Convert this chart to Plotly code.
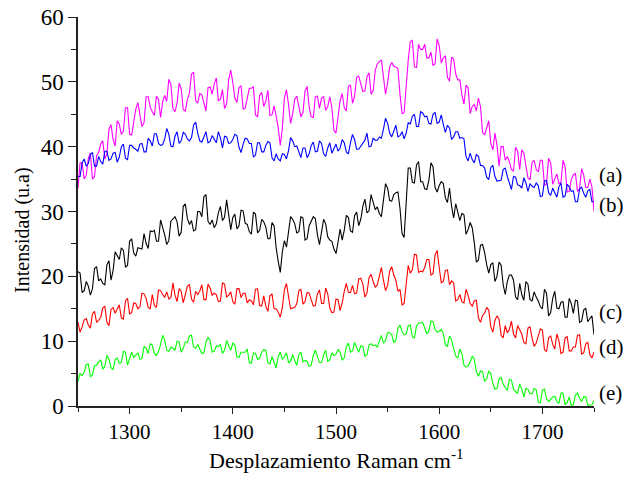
import plotly.graph_objects as go

# Raman shift grid (cm^-1), sampled every 2 cm^-1
WAVENUMBER = list(range(1250, 1751, 2))

SERIES_LABELS = ["(a)", "(b)", "(c)", "(d)", "(e)"]
SERIES_COLORS = ["#FF00FF", "#0000FF", "#000000", "#FF0000", "#00FF00"]

INT_A = [33.6, 37.5, 37.5, 35.0, 35.6, 38.2, 39.0, 35.0, 35.4, 38.6,
         39.1, 40.4, 40.9, 38.1, 38.9, 42.7, 43.4, 41.1, 40.1, 44.0,
         43.5, 41.9, 42.4, 46.0, 46.0, 41.9, 41.8, 44.0, 45.8, 46.8,
         45.2, 43.1, 43.7, 47.7, 47.7, 46.1, 45.4, 44.8, 47.8, 47.3,
         44.5, 46.9, 47.9, 47.0, 50.4, 49.6, 45.8, 45.4, 46.7, 49.8,
         48.9, 45.7, 45.5, 47.3, 48.3, 51.2, 51.5, 47.1, 46.7, 48.2,
         48.0, 46.5, 45.5, 49.1, 49.2, 48.1, 49.7, 50.6, 47.1, 47.3,
         48.8, 45.9, 46.6, 50.3, 51.8, 49.9, 47.5, 46.8, 49.1, 49.4,
         45.8, 45.9, 47.7, 49.0, 49.0, 49.2, 44.9, 44.6, 47.9, 48.4,
         46.2, 47.0, 48.7, 44.8, 44.9, 46.3, 44.7, 42.9, 40.2, 42.8,
         47.5, 48.8, 46.5, 43.6, 45.1, 47.3, 47.8, 46.4, 44.6, 45.3,
         48.6, 49.3, 46.1, 44.6, 44.5, 47.7, 47.8, 45.9, 47.5, 47.7,
         45.6, 46.2, 47.7, 46.0, 42.5, 42.1, 44.7, 47.1, 48.2, 46.0,
         45.5, 49.3, 49.5, 46.7, 47.8, 50.7, 50.9, 49.7, 48.5, 48.6,
         50.8, 51.4, 48.1, 48.6, 51.7, 52.8, 53.1, 53.4, 50.7, 48.1,
         49.8, 52.3, 53.0, 52.4, 52.3, 52.0, 48.1, 45.1, 45.2, 50.0,
         53.4, 56.2, 56.4, 52.3, 52.2, 55.8, 55.0, 55.0, 55.8, 53.7,
         53.7, 54.6, 52.5, 52.8, 56.6, 55.6, 52.9, 53.7, 54.0, 50.7,
         50.1, 53.8, 53.5, 51.2, 50.3, 50.3, 48.0, 46.6, 49.5, 49.1,
         45.1, 46.2, 46.5, 45.5, 47.5, 46.2, 42.2, 41.8, 43.1, 44.0,
         40.5, 39.5, 42.1, 40.2, 37.0, 40.0, 40.0, 37.9, 38.5, 37.7,
         36.5, 36.2, 39.9, 39.3, 36.5, 39.5, 39.0, 36.7, 35.2, 34.9,
         37.6, 37.9, 36.5, 36.1, 37.9, 37.9, 34.0, 34.3, 38.2, 37.5,
         34.2, 35.0, 35.8, 34.3, 34.5, 37.9, 36.9, 33.0, 33.1, 35.0,
         35.6, 35.9, 33.1, 33.5, 36.6, 35.6, 33.7, 33.7, 35.0, 33.8,
         30.0]

INT_B = [35.4, 35.4, 37.5, 38.1, 37.0, 37.4, 38.8, 39.1, 37.0, 37.0,
         38.5, 37.7, 37.3, 39.3, 39.3, 37.9, 38.1, 39.0, 39.1, 37.6,
         38.4, 40.0, 40.4, 38.2, 38.0, 40.2, 40.2, 39.8, 39.6, 39.3,
         40.4, 40.5, 39.2, 39.2, 41.3, 40.9, 40.1, 42.0, 42.0, 40.5,
         40.2, 40.3, 41.2, 42.8, 41.9, 40.1, 40.0, 41.6, 42.3, 40.5,
         40.9, 42.2, 41.9, 41.2, 40.9, 41.4, 43.3, 43.8, 42.1, 40.9,
         40.7, 41.6, 42.3, 40.6, 40.8, 41.7, 41.2, 40.6, 42.3, 41.4,
         39.8, 41.6, 41.5, 40.5, 40.6, 41.1, 41.9, 41.7, 39.9, 39.1,
         40.4, 41.3, 41.2, 40.5, 40.5, 38.4, 38.7, 40.6, 40.6, 39.2,
         39.2, 40.2, 40.8, 40.6, 38.3, 37.8, 38.9, 38.1, 37.8, 38.9,
         38.8, 38.1, 39.4, 41.4, 40.9, 40.0, 40.1, 39.1, 38.3, 39.8,
         39.8, 38.3, 38.9, 40.2, 40.7, 39.2, 39.3, 40.9, 40.5, 38.9,
         38.5, 39.8, 40.6, 39.0, 39.8, 40.4, 39.3, 39.8, 41.1, 40.6,
         39.2, 38.9, 40.6, 41.9, 41.1, 39.6, 39.6, 40.1, 40.6, 41.0,
         42.1, 40.0, 40.1, 41.3, 41.0, 41.0, 41.5, 41.3, 42.7, 44.4,
         43.6, 42.1, 41.5, 42.5, 43.3, 41.5, 41.7, 42.3, 41.2, 42.1,
         43.7, 43.5, 44.7, 45.0, 43.1, 43.1, 45.4, 45.2, 44.6, 44.7,
         43.6, 43.5, 45.0, 45.3, 43.6, 43.8, 44.9, 43.4, 42.2, 43.3,
         42.9, 41.1, 41.5, 42.3, 42.3, 41.3, 41.4, 41.2, 38.5, 37.8,
         39.0, 38.0, 37.5, 38.8, 38.5, 37.1, 37.1, 36.7, 35.3, 34.9,
         36.8, 37.1, 35.4, 34.7, 34.7, 34.8, 36.5, 36.7, 35.4, 34.3,
         33.4, 35.4, 35.3, 34.1, 34.0, 33.6, 35.2, 34.4, 33.1, 34.3,
         33.9, 33.7, 34.4, 34.0, 32.3, 32.4, 34.7, 34.8, 32.9, 32.5,
         33.6, 32.9, 32.2, 33.8, 34.4, 32.2, 32.4, 34.2, 33.8, 33.1,
         33.2, 31.5, 31.5, 33.4, 33.8, 32.8, 32.2, 33.2, 33.4, 31.5,
         31.5]

INT_C = [20.7, 20.5, 17.5, 17.8, 19.2, 18.5, 17.1, 18.1, 21.2, 21.5,
         19.3, 19.6, 18.9, 18.7, 21.8, 22.4, 19.4, 20.9, 23.8, 23.2,
         22.6, 24.4, 24.0, 21.4, 21.7, 25.4, 25.8, 23.6, 23.1, 24.4,
         24.3, 24.2, 26.6, 25.1, 24.3, 27.0, 26.9, 27.1, 25.4, 25.4,
         28.7, 27.7, 26.4, 24.9, 25.5, 28.5, 28.9, 29.2, 28.4, 26.2,
         26.8, 30.8, 31.2, 28.9, 28.0, 28.6, 27.0, 27.2, 30.0, 30.0,
         29.2, 32.3, 32.6, 28.5, 28.0, 28.7, 27.5, 28.1, 29.8, 30.8,
         28.6, 29.1, 31.8, 29.7, 27.2, 29.1, 29.6, 27.3, 27.8, 30.2,
         30.1, 28.2, 28.0, 26.9, 26.5, 29.9, 29.6, 26.7, 27.1, 28.8,
         28.4, 27.6, 25.8, 25.8, 28.3, 27.8, 24.4, 22.3, 20.6, 23.8,
         25.5, 24.5, 27.1, 29.2, 28.8, 28.1, 26.7, 26.9, 29.2, 29.0,
         25.6, 25.8, 27.8, 28.5, 29.2, 28.9, 26.4, 24.9, 26.6, 28.8,
         28.1, 26.1, 25.6, 25.4, 24.2, 23.5, 25.3, 27.3, 25.6, 27.1,
         29.4, 29.1, 27.0, 26.8, 29.4, 29.9, 27.8, 28.8, 30.8, 31.9,
         29.8, 30.1, 32.6, 31.6, 30.3, 30.7, 29.7, 29.2, 32.2, 34.3,
         33.6, 31.7, 31.6, 32.6, 32.9, 33.0, 30.5, 26.6, 26.0, 31.0,
         36.7, 36.7, 34.5, 34.4, 37.2, 37.7, 34.6, 34.6, 33.5, 33.4,
         34.8, 37.5, 36.9, 33.7, 33.0, 34.0, 34.6, 34.3, 32.1, 31.4,
         33.6, 30.8, 29.0, 31.2, 29.7, 28.6, 29.7, 29.5, 26.5, 27.2,
         28.3, 27.5, 25.2, 22.2, 22.5, 24.8, 24.9, 23.7, 21.8, 20.5,
         21.8, 22.1, 19.2, 20.0, 22.2, 21.7, 18.7, 17.2, 19.2, 20.2,
         20.2, 19.4, 16.8, 16.4, 18.9, 17.2, 16.3, 19.2, 18.8, 16.4,
         16.2, 17.6, 16.8, 16.2, 15.3, 15.0, 18.0, 17.4, 13.9, 14.4,
         16.6, 17.7, 15.1, 15.0, 16.0, 16.1, 13.7, 13.7, 16.6, 15.8,
         14.3, 16.3, 16.2, 12.9, 13.1, 14.8, 15.1, 13.0, 13.5, 13.9,
         11.0]

INT_D = [12.9, 11.4, 12.2, 13.3, 13.5, 12.5, 12.0, 14.2, 14.6, 12.9,
         13.2, 13.7, 15.1, 15.4, 12.9, 12.4, 14.9, 15.2, 14.3, 15.0,
         15.6, 13.6, 13.4, 16.2, 16.6, 14.2, 14.4, 15.9, 15.8, 15.0,
         15.3, 17.4, 17.3, 16.6, 15.2, 15.0, 17.2, 15.5, 15.2, 17.9,
         17.8, 17.2, 16.8, 17.6, 16.5, 16.7, 19.0, 17.1, 16.1, 18.1,
         17.7, 15.9, 17.0, 18.5, 18.7, 16.5, 16.0, 17.7, 17.2, 17.7,
         18.7, 16.4, 16.4, 18.8, 18.2, 17.1, 17.4, 17.2, 16.1, 16.2,
         19.0, 18.8, 16.8, 17.1, 17.6, 16.1, 15.7, 18.1, 18.1, 16.7,
         17.4, 17.4, 15.9, 16.4, 16.2, 15.6, 18.0, 18.1, 15.5, 15.4,
         17.0, 15.4, 14.6, 17.0, 17.3, 15.0, 15.0, 14.5, 13.7, 15.2,
         17.9, 18.9, 16.9, 15.0, 15.1, 15.2, 15.8, 17.8, 18.0, 15.7,
         16.1, 17.5, 17.4, 16.4, 15.4, 15.5, 17.3, 17.9, 15.8, 15.8,
         18.2, 17.3, 15.1, 14.4, 14.5, 16.5, 16.4, 14.7, 15.9, 17.7,
         18.9, 17.5, 17.5, 18.6, 17.3, 17.4, 19.6, 19.7, 18.8, 16.8,
         17.4, 19.8, 20.3, 19.2, 18.3, 18.7, 20.3, 21.4, 19.4, 17.8,
         18.6, 20.8, 21.5, 20.2, 19.4, 17.7, 18.0, 15.6, 15.8, 19.1,
         21.7, 20.5, 21.0, 23.4, 23.3, 20.6, 20.8, 20.7, 21.4, 22.6,
         22.6, 20.2, 20.4, 23.3, 24.0, 21.4, 19.0, 19.2, 20.9, 21.0,
         18.7, 19.3, 19.0, 16.2, 16.4, 17.2, 16.1, 15.9, 18.0, 17.1,
         15.8, 15.4, 16.2, 16.3, 13.6, 12.9, 14.0, 14.3, 15.2, 14.8,
         12.2, 11.4, 13.2, 13.9, 13.4, 10.9, 10.5, 12.4, 11.3, 11.8,
         13.1, 11.1, 10.5, 12.4, 11.8, 11.1, 9.8, 9.6, 12.0, 12.2,
         10.5, 9.2, 9.7, 10.7, 11.9, 11.7, 8.7, 8.4, 10.5, 10.8,
         9.5, 8.8, 11.1, 10.1, 8.1, 8.3, 10.5, 10.7, 8.5, 8.5,
         9.1, 9.1, 10.9, 11.0, 8.0, 8.2, 9.6, 9.8, 7.9, 7.4,
         8.3]

INT_E = [3.8, 5.0, 4.7, 5.2, 6.4, 6.5, 4.5, 4.8, 6.2, 6.3,
         6.8, 7.1, 5.7, 6.1, 7.8, 7.2, 5.9, 5.6, 7.2, 7.4,
         6.6, 6.7, 8.4, 8.3, 6.3, 7.2, 8.3, 7.5, 7.9, 8.2,
         7.2, 7.3, 9.2, 8.9, 8.1, 9.6, 9.4, 8.1, 7.8, 8.4,
         9.5, 10.9, 10.2, 8.6, 8.4, 9.1, 8.9, 8.6, 10.0, 9.9,
         8.3, 8.9, 9.9, 9.8, 10.8, 10.9, 9.1, 8.9, 9.5, 8.9,
         8.1, 8.2, 9.9, 10.6, 10.1, 8.3, 8.5, 9.2, 9.2, 9.5,
         8.1, 8.6, 10.1, 9.3, 8.6, 9.7, 9.4, 7.6, 7.5, 8.3,
         8.3, 8.3, 8.8, 6.7, 6.6, 8.2, 8.1, 7.2, 7.4, 8.3,
         8.7, 8.6, 6.7, 6.5, 7.6, 6.6, 5.9, 7.6, 8.3, 7.2,
         7.6, 8.2, 6.7, 6.9, 7.9, 7.0, 6.3, 7.9, 8.3, 6.8,
         7.0, 6.9, 6.1, 6.3, 7.8, 8.6, 7.7, 6.7, 6.7, 7.9,
         8.6, 6.9, 7.1, 8.2, 7.8, 8.0, 8.7, 8.3, 7.1, 7.4,
         9.2, 9.7, 8.3, 8.5, 9.8, 9.1, 8.3, 9.3, 9.2, 7.7,
         7.9, 9.4, 9.6, 9.3, 9.4, 9.1, 10.1, 10.9, 9.7, 10.1,
         11.3, 11.3, 11.0, 9.8, 10.1, 12.0, 12.5, 11.5, 11.0, 11.1,
         12.4, 12.5, 10.7, 10.5, 12.3, 12.8, 12.8, 12.9, 12.0, 11.1,
         11.5, 13.1, 13.0, 11.8, 11.4, 11.5, 11.8, 11.2, 9.4, 9.2,
         10.8, 10.2, 8.9, 7.7, 7.4, 8.8, 8.1, 6.3, 6.0, 6.2,
         6.8, 7.7, 7.2, 5.3, 4.6, 5.4, 5.3, 3.8, 4.2, 5.4,
         5.0, 3.5, 2.6, 2.7, 4.2, 4.4, 3.4, 2.8, 2.4, 4.1,
         4.0, 2.6, 2.2, 2.0, 3.4, 2.6, 1.4, 2.7, 2.6, 1.9,
         1.9, 2.7, 2.5, 0.6, 0.5, 2.4, 2.6, 1.1, 0.7, 1.0,
         1.4, 1.5, 0.7, 0.4, 2.0, 2.0, 0.2, 0.5, 1.4, 0.1,
         0.2, 1.7, 2.0, 1.2, 0.7, 1.4, 1.4, 0.1, 0.2, 0.2,
         0.8]

# label anchor heights (data units) next to right end of each curve
LABEL_Y = [35.6, 31.0, 14.5, 9.1, 2.0]

X_TICKS = [1300, 1400, 1500, 1600, 1700]
Y_TICKS = [0, 10, 20, 30, 40, 50, 60]

X_TITLE = "Desplazamiento Raman cm<sup>-1</sup>"
Y_TITLE = "Intensidad (u.a)"

SERIES = [INT_A, INT_B, INT_C, INT_D, INT_E]
for s in SERIES:
    assert len(s) == len(WAVENUMBER), len(s)

FONT = "Liberation Serif"

fig = go.Figure()
for vals, col, lab in zip(SERIES, SERIES_COLORS, SERIES_LABELS):
    fig.add_trace(go.Scatter(x=WAVENUMBER, y=vals, mode="lines",
                             line=dict(color=col, width=1.1),
                             name=lab, showlegend=False, hoverinfo="skip"))

for lab, yv in zip(SERIES_LABELS, LABEL_Y):
    fig.add_annotation(x=1.006, xref="paper", y=yv, yref="y", text=lab,
                       showarrow=False, xanchor="left", yanchor="middle",
                       font=dict(family=FONT, size=21, color="black"))

# axis titles placed as annotations to match the reference positions
fig.add_annotation(x=0.500, xref="paper", y=-0.135, yref="paper",
                   text=X_TITLE, showarrow=False, xanchor="center",
                   yanchor="middle",
                   font=dict(family=FONT, size=22, color="black"))
fig.add_annotation(x=-0.109, xref="paper", y=0.452, yref="paper",
                   text=Y_TITLE, showarrow=False, textangle=-90,
                   xanchor="center", yanchor="middle",
                   font=dict(family=FONT, size=20, color="black"))

fig.update_layout(
    width=631, height=486, autosize=False,
    margin=dict(l=78, r=37, t=17, b=80),
    plot_bgcolor="white", paper_bgcolor="white",
    font=dict(family=FONT, size=20, color="black"),
)
fig.update_xaxes(
    range=[1250, 1750], tickvals=X_TICKS, showgrid=False, zeroline=False,
    showline=True, linecolor="#222222", linewidth=1.5,
    ticks="outside", ticklen=6, tickwidth=1.3, tickcolor="#222222",
    minor=dict(dtick=50, tick0=1250, ticks="outside", ticklen=4,
               tickwidth=1.2, tickcolor="#222222", showgrid=False),
    tickfont=dict(family=FONT, size=21),
    automargin=False,
)
fig.update_yaxes(
    range=[0, 60], tickvals=Y_TICKS, showgrid=False, zeroline=False,
    showline=True, linecolor="#222222", linewidth=1.5,
    ticks="outside", ticklen=8, tickwidth=1.3, tickcolor="#222222",
    minor=dict(dtick=5, tick0=0, ticks="outside", ticklen=5,
               tickwidth=1.2, tickcolor="#222222", showgrid=False),
    tickfont=dict(family=FONT, size=23),
    automargin=False,
)

fig.write_html("out.html", config={"displayModeBar": False},
               post_script="document.body.style.margin='0px';")
